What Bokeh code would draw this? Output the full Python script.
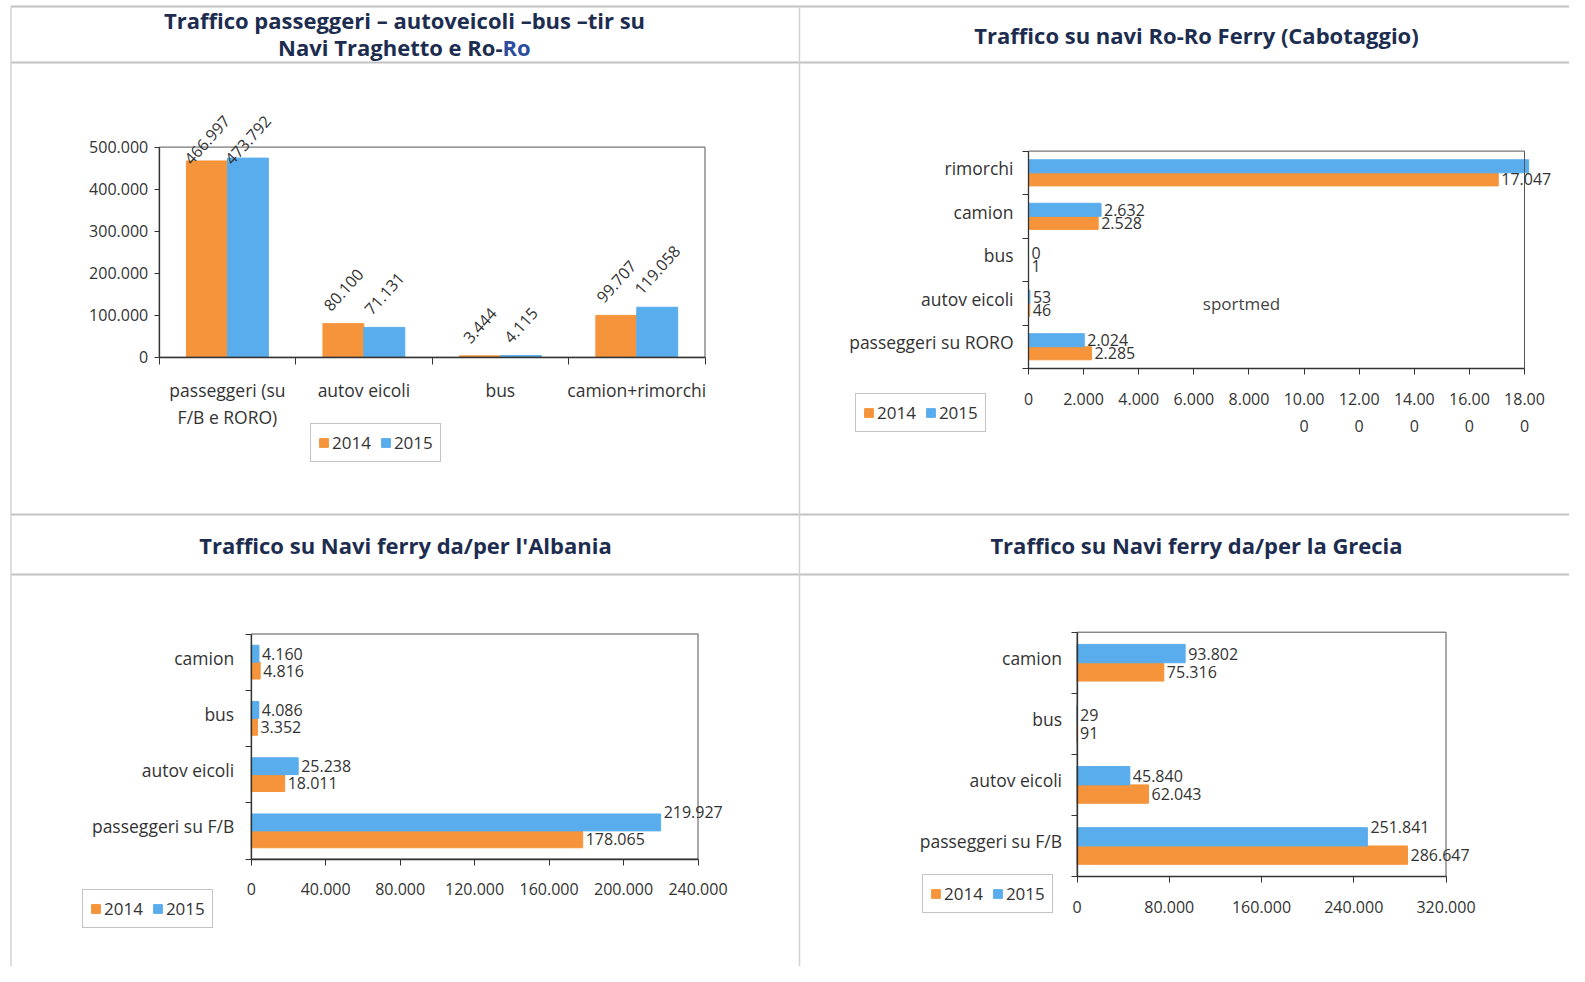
import numpy as np
from bokeh.plotting import figure
from bokeh.models import (ColumnDataSource, Range1d, FixedTicker, LabelSet, Legend,
                          LegendItem, Label, LinearAxis)
from bokeh.core.properties import value
from bokeh.transform import dodge
from bokeh.embed import file_html
from bokeh.resources import INLINE

# ---------------- data ----------------
years = ["2014", "2015"]

# Chart 1: Traffico passeggeri - autoveicoli - bus - tir
c1_categories = ["passeggeri (su\nF/B e RORO)", "autov eicoli", "bus", "camion+rimorchi"]
c1_2014 = [466997, 80100, 3444, 99707]
c1_2015 = [473792, 71131, 4115, 119058]
c1_yticks = [0, 100000, 200000, 300000, 400000, 500000]
c1_yticklabels = ["0", "100.000", "200.000", "300.000", "400.000", "500.000"]

# Chart 2: Ro-Ro Ferry (Cabotaggio)  (bottom -> top)
c2_categories = ["passeggeri su RORO", "autov eicoli", "bus", "camion", "rimorchi"]
c2_2014 = [2285, 46, 1, 2528, 17047]
c2_2015 = [2024, 53, 0, 2632, 18150]
c2_xticks = [0, 2000, 4000, 6000, 8000, 10000, 12000, 14000, 16000, 18000]
c2_xticklabels = ["0", "2.000", "4.000", "6.000", "8.000",
                  "10.00\n0", "12.00\n0", "14.00\n0", "16.00\n0", "18.00\n0"]

# Chart 3: Albania (bottom -> top)
c3_categories = ["passeggeri su F/B", "autov eicoli", "bus", "camion"]
c3_2014 = [178065, 18011, 3352, 4816]
c3_2015 = [219927, 25238, 4086, 4160]
c3_xticks = [0, 40000, 80000, 120000, 160000, 200000, 240000]
c3_xticklabels = ["0", "40.000", "80.000", "120.000", "160.000", "200.000", "240.000"]

# Chart 4: Grecia (bottom -> top)
c4_categories = ["passeggeri su F/B", "autov eicoli", "bus", "camion"]
c4_2014 = [286647, 62043, 91, 75316]
c4_2015 = [251841, 45840, 29, 93802]
c4_xticks = [0, 80000, 160000, 240000, 320000]
c4_xticklabels = ["0", "80.000", "160.000", "240.000", "320.000"]

title1_lines = ["Traffico passeggeri – autoveicoli –bus –tir su", "Navi Traghetto e Ro-", "Ro"]
title2 = "Traffico su navi Ro-Ro Ferry (Cabotaggio)"
title3 = "Traffico su Navi ferry da/per l'Albania"
title4 = "Traffico su Navi ferry da/per la Grecia"
watermark = "sportmed"

# ---------------- style / layout (pixels in the page figure) ----------------
W, H = 1569, 966
ORANGE = "#F5943A"
BLUE = "#5AADEC"
FONT = "Open Sans"
TXT = "#333333"
AX = "#333333"
NAVY = "#1d2d50"

# chart boxes: (x_left, x_right), (y_top, y_bottom) in page pixels
BOX1 = ((158.7, 704.5), (146.6, 356.8))
BOX2 = ((1028, 1524), (150.6, 368))
BOX3 = ((250.7, 697.5), (633.5, 858.5))
BOX4 = ((1076.5, 1445.5), (631.7, 876))
C1_LABEL_TOP_LIMIT = 112  # rotated labels are kept below this line


def fmt(v):
    return f"{v:,}".replace(",", ".")


p = figure(width=W, height=H, x_range=Range1d(0, W), y_range=Range1d(H, 0),
           x_axis_type=None, y_axis_type=None, output_backend="svg",
           toolbar_location=None, min_border=0)
p.outline_line_color = None
p.background_fill_color = "white"
p.border_fill_color = "white"
p.xgrid.visible = False
p.ygrid.visible = False

# table lines
hy = [6, 62, 514, 574]
p.segment(x0=[10.5] * 4, x1=[W] * 4, y0=hy, y1=hy, line_color="#c2c2c2", line_width=2)
p.segment(x0=[10.5, 799], x1=[10.5, 799], y0=[6, 6], y1=[H, H],
          line_color="#d2d2d2", line_width=1.5)

# titles
tstyle = dict(text_font=FONT, text_font_style="bold", text_font_size="22px",
              text_color=NAVY, text_baseline="middle")
p.add_layout(Label(x=404, y=19.5, text=title1_lines[0], text_align="center", **tstyle))
p.add_layout(Label(x=502, y=46.5, text=title1_lines[1], text_align="right", **tstyle))
p.add_layout(Label(x=502, y=46.5, text=title1_lines[2], text_align="left",
                   **{**tstyle, "text_color": "#2c4c9c"}))
p.add_layout(Label(x=1196, y=34.6, text=title2, text_align="center", **tstyle))
p.add_layout(Label(x=405, y=544, text=title3, text_align="center", **tstyle))
p.add_layout(Label(x=1196, y=544, text=title4, text_align="center", **tstyle))

extra_x, extra_y = {}, {}


def ranges(name, xd, yd, box):
    (a, b), (yt, yb) = box
    x0, x1 = xd
    s = (x1 - x0) / (b - a)
    extra_x[name] = Range1d(x0 - a * s, x1 + (W - b) * s)
    vb, vt = H - yb, H - yt
    y0, y1 = yd
    t = (y1 - y0) / (vt - vb)
    extra_y[name] = Range1d(y0 - vb * t, y1 + (H - vt) * t)


n1 = len(c1_categories)
ranges("c1", (0, n1), (c1_yticks[0], c1_yticks[-1]), BOX1)
ranges("c2", (c2_xticks[0], c2_xticks[-1]), (0, len(c2_categories)), BOX2)
ranges("c3", (c3_xticks[0], c3_xticks[-1]), (0, len(c3_categories)), BOX3)
ranges("c4", (c4_xticks[0], c4_xticks[-1]), (0, len(c4_categories)), BOX4)
p.extra_x_ranges = extra_x
p.extra_y_ranges = extra_y


def style_axis(ax, size="16px", lh=1.2):
    ax.axis_line_color = AX
    ax.axis_line_width = 1.3
    ax.major_label_text_font = FONT
    ax.major_label_text_font_size = size
    ax.major_label_text_color = TXT
    ax.major_label_text_line_height = lh


def add_legend(r14, r15, loc):
    leg = Legend(items=[LegendItem(label=years[0], renderers=[r14]),
                        LegendItem(label=years[1], renderers=[r15])],
                 location=loc, orientation="horizontal",
                 border_line_color="#8a8a8a", border_line_width=1,
                 background_fill_color="white", background_fill_alpha=1,
                 padding=7, spacing=9, margin=0, glyph_width=11, glyph_height=11,
                 label_standoff=3, label_text_font=FONT, label_text_font_size="17px",
                 label_text_color=TXT, label_height=17)
    p.add_layout(leg)


def box(name, x0, x1, y0, y1):
    p.quad(left=[x0], right=[x1], bottom=[y0], top=[y1], fill_color=None,
           line_color="#555555", line_width=1, x_range_name=name, y_range_name=name)


# ---------------- chart 1 (vertical bars) ----------------
x1 = np.arange(n1) + 0.5
(_, _), (c1_top, c1_bot) = BOX1
c1_px_per_unit = (c1_bot - c1_top) / (c1_yticks[-1] - c1_yticks[0])


def rot_off(labels, vals, size=16.0, ang=np.radians(48), gap=10):
    out = []
    for s, v in zip(labels, vals):
        L = sum(0.27 if ch == "." else 0.572 for ch in s) * size
        Ht = L * np.sin(ang) + size * np.cos(ang)
        off = Ht / 2 + gap
        bar_top = c1_bot - v * c1_px_per_unit
        off = min(off, bar_top - C1_LABEL_TOP_LIMIT - Ht / 2)
        out.append(off)
    return out


lab14 = [fmt(v) for v in c1_2014]
lab15 = [fmt(v) for v in c1_2015]
src1 = ColumnDataSource(dict(x=x1, v14=c1_2014, v15=c1_2015, l14=lab14, l15=lab15,
                             o14=rot_off(lab14, c1_2014), o15=rot_off(lab15, c1_2015)))
rn = dict(x_range_name="c1", y_range_name="c1")
r14 = p.vbar(x=dodge("x", -0.15), top="v14", width=0.3, source=src1,
             fill_color=ORANGE, line_color=ORANGE, **rn)
r15 = p.vbar(x=dodge("x", 0.15), top="v15", width=0.3, source=src1,
             fill_color=BLUE, line_color=BLUE, **rn)
box("c1", 0, n1, c1_yticks[0], c1_yticks[-1])
for lab, val, off, d in (("l14", "v14", "o14", -0.15), ("l15", "v15", "o15", 0.15)):
    p.add_layout(LabelSet(x=dodge("x", d), y=val, text=lab, source=src1,
                          angle=48, angle_units="deg", text_align="center",
                          text_baseline="middle", y_offset=off, text_font=value(FONT),
                          text_font_size="16px", text_color=TXT, **rn))
xa = LinearAxis(fixed_location=c1_yticks[0], bounds=(0, n1), **rn)
xa.ticker = FixedTicker(ticks=list(x1), minor_ticks=list(range(n1 + 1)))
xa.major_label_overrides = {float(x): c for x, c in zip(x1, c1_categories)}
style_axis(xa, "17.5px", 1.12)
xa.major_tick_line_color = None
xa.major_tick_out = 0
xa.minor_tick_out = 7
xa.minor_tick_in = 0
xa.minor_tick_line_color = AX
xa.major_label_standoff = 14
p.add_layout(xa, "below")
ya = LinearAxis(fixed_location=0, bounds=(c1_yticks[0], c1_yticks[-1]), **rn)
ya.ticker = FixedTicker(ticks=c1_yticks)
ya.major_label_overrides = {t: l for t, l in zip(c1_yticks, c1_yticklabels)}
style_axis(ya)
ya.major_tick_out = 5
ya.major_tick_in = 0
ya.major_tick_line_color = AX
ya.minor_tick_line_color = None
ya.major_label_standoff = 6
p.add_layout(ya, "left")
add_legend(r14, r15, (310, H - 462))


# ---------------- horizontal bar charts ----------------
def hchart(name, bx, cats, v14, v15, xticks, xticklabels, legloc, ystand, xstand, xlh):
    n = len(cats)
    yc = np.arange(n) + 0.5
    xmax = xticks[-1]
    band_px = (bx[1][1] - bx[1][0]) / n
    rn = dict(x_range_name=name, y_range_name=name)
    src = ColumnDataSource(dict(y=yc, v14=v14, v15=v15,
                                l14=[fmt(v) if v <= xmax else "" for v in v14],
                                l15=[fmt(v) if v <= xmax else "" for v in v15],
                                d15=[10 if v >= 0.75 * xmax else 0 for v in v15]))
    a = p.hbar(y=dodge("y", -0.15), right="v14", height=0.3, source=src,
               fill_color=ORANGE, line_color=ORANGE, **rn)
    b = p.hbar(y=dodge("y", 0.15), right="v15", height=0.3, source=src,
               fill_color=BLUE, line_color=BLUE, **rn)
    box(name, xticks[0], xmax, 0, n)
    p.add_layout(LabelSet(x="v14", y=dodge("y", -0.15), text="l14", source=src,
                          x_offset=3, text_align="left", text_baseline="middle",
                          text_font=value(FONT), text_font_size="16px",
                          text_color=TXT, **rn))
    p.add_layout(LabelSet(x="v15", y=dodge("y", 0.15), text="l15", source=src,
                          x_offset=3, y_offset="d15", text_align="left",
                          text_baseline="middle", text_font=value(FONT),
                          text_font_size="16px", text_color=TXT, **rn))
    xa = LinearAxis(fixed_location=0, bounds=(xticks[0], xmax), **rn)
    xa.ticker = FixedTicker(ticks=xticks)
    xa.major_label_overrides = {t: l for t, l in zip(xticks, xticklabels)}
    style_axis(xa, "16px", xlh)
    xa.major_tick_out = 6
    xa.major_tick_in = 0
    xa.major_tick_line_color = AX
    xa.minor_tick_line_color = None
    xa.major_label_standoff = xstand
    p.add_layout(xa, "below")
    # category labels sit slightly above the band centre, as in the original
    lift = 4.5 / band_px
    ticks = [float(y + lift) for y in yc]
    ya = LinearAxis(fixed_location=xticks[0], bounds=(0, n), **rn)
    ya.ticker = FixedTicker(ticks=ticks, minor_ticks=list(range(n + 1)))
    ya.major_label_overrides = {t: c for t, c in zip(ticks, cats)}
    style_axis(ya, "17.5px")
    ya.major_tick_line_color = None
    ya.major_tick_out = 0
    ya.minor_tick_out = 6
    ya.minor_tick_in = 0
    ya.minor_tick_line_color = AX
    ya.major_label_standoff = ystand
    p.add_layout(ya, "left")
    add_legend(a, b, legloc)


hchart("c2", BOX2, c2_categories, c2_2014, c2_2015, c2_xticks, c2_xticklabels,
       (855, H - 431.6), 9, 13, 1.25)
p.add_layout(Label(x=7730, y=1.5, text=watermark, text_align="center",
                   text_baseline="middle", text_font=FONT, text_font_size="17px",
                   text_color="#444444", x_range_name="c2", y_range_name="c2"))
hchart("c3", BOX3, c3_categories, c3_2014, c3_2015, c3_xticks, c3_xticklabels,
       (82, H - 928), 11, 18, 1.2)
hchart("c4", BOX4, c4_categories, c4_2014, c4_2015, c4_xticks, c4_xticklabels,
       (922, H - 913), 9, 18, 1.2)

open("out.html", "w").write(file_html(p, INLINE))
